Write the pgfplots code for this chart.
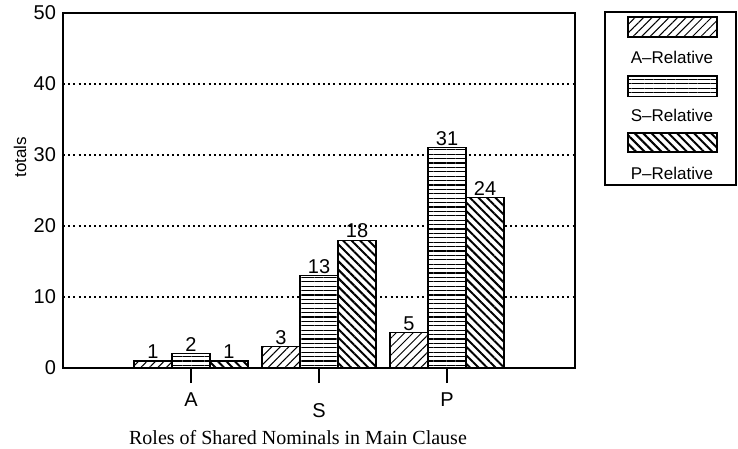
\documentclass[border=0pt]{standalone}
\usepackage{fontspec}
\setmainfont{Liberation Sans}
\newfontfamily\serifnote{Liberation Serif}
\usepackage{pgfplots}
\pgfplotsset{compat=1.18}
\usetikzlibrary{patterns.meta}

\tikzset{
 patA/.style={pattern={Lines[angle=45,distance=3pt,line width=0.5pt]}},
 patS/.style={pattern={Lines[angle=0,distance=2.2pt,line width=0.6pt]}},
 patP/.style={pattern={Lines[angle=-45,distance=3pt,line width=1pt]}},
}

\begin{document}
\begin{tikzpicture}[font=\fontsize{8.5pt}{10pt}\selectfont]
\useasboundingbox (-31.5pt,-40.5pt) rectangle (337.5pt,184pt);
\begin{axis}[
 at={(0,0)}, anchor=south west,
 scale only axis, width=256pt, height=177.5pt,
 xmin=-1, xmax=3, ymin=0, ymax=50,
 ybar=0pt, bar width=19pt,
 xtick={0,1,2},
 xticklabels={A,{\raisebox{-5pt}[\height][\depth]{S}},P},
 xtick pos=bottom,
 tick align=outside,
 major tick length=7.5pt,
 x tick style={line width=0.7pt, black},
 xticklabel style={yshift=-1.5pt},
 ytick={0,10,20,30,40,50},
 ytick pos=left,
 y tick style={draw=none},
 yticklabel style={xshift=7.5pt},
 ymajorgrids,
 major grid style={line width=0.7pt, dash pattern=on 1pt off 1.6pt, black},
 axis line style={line width=0.8pt},
 /pgf/number format/assume math mode=true,
 tick label style={font=\fontsize{10pt}{11pt}\selectfont},
 nodes near coords,
 every node near coord/.append style={font=\fontsize{10pt}{11pt}\selectfont, inner sep=0.8pt},
 xlabel={Roles of Shared Nominals in Main Clause},
 x label style={at={(axis description cs:0.459,0)}, anchor=center, yshift=-35pt, font=\serifnote\fontsize{10pt}{11pt}\selectfont},
 clip=false,
]
\addplot[draw=black, line width=0.6pt, fill=white, postaction={patA}] coordinates {(0,1) (1,3) (2,5)};
\addplot[draw=black, line width=0.6pt, fill=white, postaction={patS}] coordinates {(0,2) (1,13) (2,31)};
\addplot[draw=black, line width=0.6pt, fill=white, postaction={patP}] coordinates {(0,1) (1,18) (2,24)};
\node[rotate=90, anchor=center, font=\fontsize{8.5pt}{10pt}\selectfont] at (rel axis cs:-0.084,0.594) {totals};
\end{axis}
% legend
\draw[line width=0.6pt] (271pt,91.5pt) rectangle (336.5pt,178pt);
\draw[line width=0.6pt, fill=white, postaction={patA}] (282.5pt,165.5pt) rectangle (327pt,175.5pt);
\draw[line width=0.6pt, fill=white, postaction={patS}] (282.5pt,135.7pt) rectangle (327pt,146pt);
\draw[line width=0.6pt, fill=white, postaction={patP}] (282.5pt,108pt) rectangle (327pt,117.5pt);
\node at (304.5pt,155.5pt) {A--Relative};
\node at (304.5pt,126.5pt) {S--Relative};
\node at (304.5pt,97.5pt) {P--Relative};
\end{tikzpicture}
\end{document}
